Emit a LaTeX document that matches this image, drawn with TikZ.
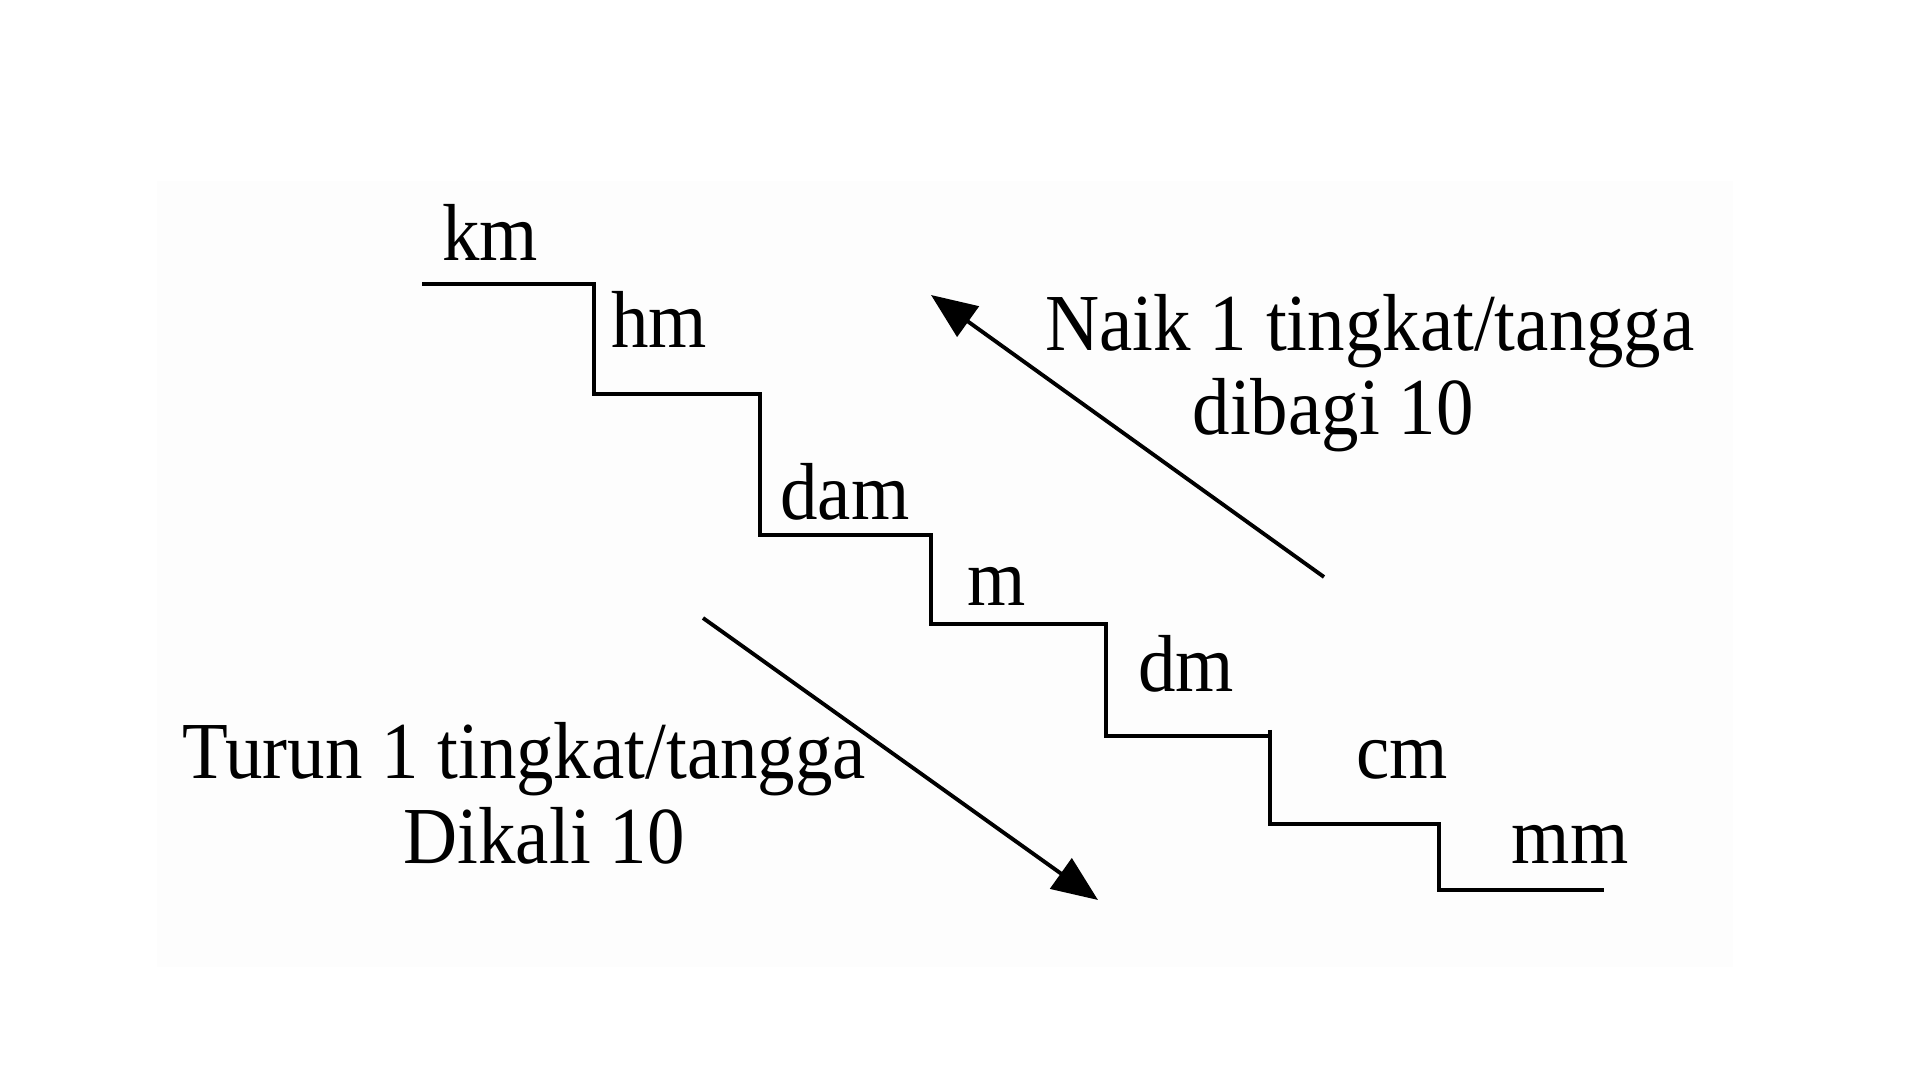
\documentclass[tikz,border=0pt]{standalone}
\usepackage{fontspec}
\setmainfont{Liberation Serif}
\usetikzlibrary{arrows.meta}
\begin{document}
\begin{tikzpicture}[x=0.01cm,y=-0.01cm,
  stair/.style={line width=1.1pt, line join=miter},
  conv/.style={line width=1.1pt, -{Triangle[length=13pt,width=10.5pt]}},
  lbl/.style={anchor=base, inner sep=0pt, yscale=1.08, transform shape,
    font=\fontsize{21.3pt}{25pt}\selectfont}]
\useasboundingbox (0,0) rectangle (1920,1080);
\fill[white] (0,0) rectangle (1920,1080);
\fill[black!0.8] (157,181) rectangle (1733,967);
% staircase
\draw[stair] (422,284) -- (594,284) -- (594,394) -- (760,394) -- (760,535)
  -- (931,535) -- (931,624) -- (1106,624) -- (1106,736) -- (1270,736);
\draw[stair] (1270,730) -- (1270,824) -- (1439,824) -- (1439,890) -- (1604,890);
% unit labels
\node[lbl] (km)  at (490,261) {km};
\node[lbl] (hm)  at (659,348) {hm};
\node[lbl] (dam) at (845,520) {dam};
\node[lbl] (m)   at (997,606) {m};
\node[lbl] (dm)  at (1186,692) {dm};
\node[lbl] (cm)  at (1402,779) {cm};
\node[lbl] (mm)  at (1570,864) {mm};
% descriptions
\node[lbl] (naik)  at (1370,351) {Naik 1 tingkat/tangga};
\node[lbl] (bagi)  at (1333,435) {dibagi 10};
\node[lbl] (turun) at (524,779) {Turun 1 tingkat/tangga};
\node[lbl] (kali)  at (544,864) {Dikali 10};
% arrows
\coordinate (upS) at (1324,577);
\coordinate (upE) at (931,295);
\coordinate (dnS) at (703,618);
\coordinate (dnE) at (1098,900);
\draw[conv] (upS) -- (upE);
\draw[conv] (dnS) -- (dnE);
\end{tikzpicture}
\end{document}
